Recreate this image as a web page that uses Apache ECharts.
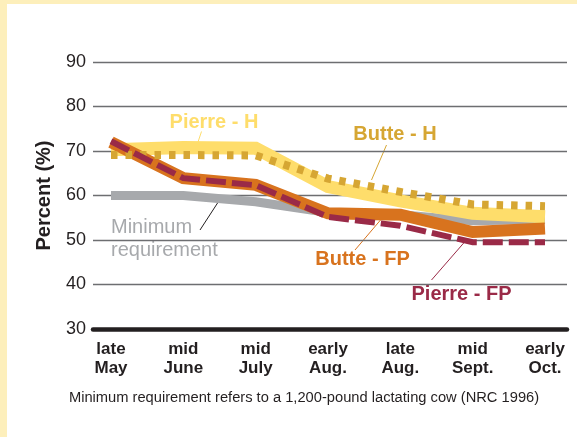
<!DOCTYPE html>
<html lang="en">
<head>
<meta charset="UTF-8">
<title>Percent over the season</title>
<style>
  html, body { margin: 0; padding: 0; background: #fff; }
  #main { width: 577px; height: 437px; }
</style>
</head>
<body>
<div id="main"></div>
<script src="https://cdn.jsdelivr.net/npm/echarts@6/dist/echarts.min.js"></script>
<script>
    var periods = ['late\nMay', 'mid\nJune', 'mid\nJuly', 'early\nAug.', 'late\nAug.', 'mid\nSept.', 'early\nOct.']
    var pierreH = [70.3, 70.8, 70.6, 62, 58.8, 56, 55.2]
    var butteH = [69.1, 69.1, 69, 63.8, 60.8, 58, 57.6]
    var butteFP = [72, 63.9, 62.4, 56, 55.7, 51.8, 52.6]
    var pierreFP = [72.2, 63.9, 62.3, 55.2, 53.2, 49.5, 49.5]
    var minimum = [60, 60, 58.6, 56.2, 55.7, 54.3, 54.6]
    var yTicks = [30, 40, 50, 60, 70, 80, 90]

    var font = "'Liberation Sans', Arial, Helvetica, sans-serif"
    var ink = '#231f20'

    function lineSeries(name, data, color, width, type, z) {
        return {
            name: name,
            type: 'line',
            xAxisIndex: 1,
            yAxisIndex: 1,
            data: data,
            showSymbol: false,
            symbol: 'none',
            silent: true,
            z: z,
            lineStyle: { color: color, width: width, type: type, cap: 'butt', join: 'miter' }
        }
    }

    var myChart = echarts.init(document.getElementById('main'))
    var option = {
        backgroundColor: '#ffffff',
        animation: false,
        grid: [
            { left: 93, right: 10, top: 62, bottom: 108 },
            { left: 111, right: 32, top: 62, bottom: 108 }
        ],
        xAxis: [{
            gridIndex: 0,
            type: 'value',
            min: 0,
            max: 1,
            axisLine: { show: true, lineStyle: { color: ink, width: 4.5 } },
            axisTick: { show: false },
            axisLabel: { show: false },
            splitLine: { show: false }
        }, {
            gridIndex: 1,
            type: 'category',
            data: periods,
            boundaryGap: false,
            axisLine: { show: false },
            axisTick: { show: false },
            splitLine: { show: false },
            axisLabel: {
                margin: 11,
                color: ink,
                fontFamily: font,
                fontWeight: 'bold',
                fontSize: 17,
                lineHeight: 19,
                interval: 0
            }
        }],
        yAxis: [{
            gridIndex: 0,
            type: 'value',
            min: yTicks[0],
            max: yTicks[yTicks.length - 1],
            interval: 10,
            name: 'Percent (%)',
            nameLocation: 'middle',
            nameGap: 38.5,
            nameTextStyle: { color: ink, fontFamily: font, fontWeight: 'bold', fontSize: 20 },
            axisLine: { show: false },
            axisTick: { show: false },
            axisLabel: {
                margin: 7,
                color: ink,
                fontFamily: font,
                fontSize: 18
            },
            splitLine: {
                show: true,
                lineStyle: { color: '#6d6e71', width: 1.3 }
            }
        }, {
            gridIndex: 1,
            type: 'value',
            min: yTicks[0],
            max: yTicks[yTicks.length - 1],
            show: false
        }],
        series: [
            lineSeries('Minimum requirement', minimum, '#a7a9ac', 9, 'solid', 2),
            lineSeries('Pierre - H', pierreH, '#fedd6b', 13, 'solid', 3),
            lineSeries('Butte - FP', butteFP, '#d8731e', 12, 'solid', 4),
            lineSeries('Butte - H', butteH, '#d6a633', 8, [6.5, 8], 5),
            lineSeries('Pierre - FP', pierreFP, '#9a2a47', 6, [20, 6], 6)
        ],
        graphic: [
            // frame strips
            { type: 'rect', z: -10, shape: { x: 0, y: 0, width: 577, height: 4 }, style: { fill: '#fdefbb' } },
            { type: 'rect', z: -10, shape: { x: 0, y: 0, width: 7, height: 437 }, style: { fill: '#fdefbb' } },
            // labels
            { type: 'text', x: 214, y: 122, style: { text: 'Pierre - H', font: 'bold 20px ' + font, fill: '#fedd6b', align: 'center', verticalAlign: 'middle' } },
            { type: 'line', shape: { x1: 201.5, y1: 131.5, x2: 198, y2: 142 }, style: { stroke: '#fedd6b', lineWidth: 1 } },
            { type: 'text', x: 395, y: 134.5, style: { text: 'Butte - H', font: 'bold 20px ' + font, fill: '#d6a633', align: 'center', verticalAlign: 'middle' } },
            { type: 'line', shape: { x1: 386.5, y1: 145, x2: 371.5, y2: 180 }, style: { stroke: '#d6a633', lineWidth: 1 } },
            { type: 'text', x: 362.5, y: 259, style: { text: 'Butte - FP', font: 'bold 20px ' + font, fill: '#d8731e', align: 'center', verticalAlign: 'middle' } },
            { type: 'line', shape: { x1: 355, y1: 250, x2: 383.5, y2: 216.5 }, style: { stroke: '#d8731e', lineWidth: 1 } },
            { type: 'text', x: 461.5, y: 294, style: { text: 'Pierre - FP', font: 'bold 20px ' + font, fill: '#9a2a47', align: 'center', verticalAlign: 'middle' } },
            { type: 'line', shape: { x1: 431.5, y1: 280, x2: 465, y2: 241.5 }, style: { stroke: '#9a2a47', lineWidth: 1 } },
            { type: 'text', x: 111, y: 239, style: { text: 'Minimum\nrequirement', font: '20px ' + font, lineHeight: 23, fill: '#a7a9ac', align: 'left', verticalAlign: 'middle' } },
            { type: 'line', shape: { x1: 200, y1: 230, x2: 219.5, y2: 200 }, style: { stroke: ink, lineWidth: 1 } },
            // footnote
            { type: 'text', x: 304, y: 398, style: { text: 'Minimum requirement refers to a 1,200-pound lactating cow (NRC 1996)', font: '14.7px ' + font, fill: ink, align: 'center', verticalAlign: 'middle' } }
        ]
    }
    myChart.setOption(option)
</script>
</body>
</html>
